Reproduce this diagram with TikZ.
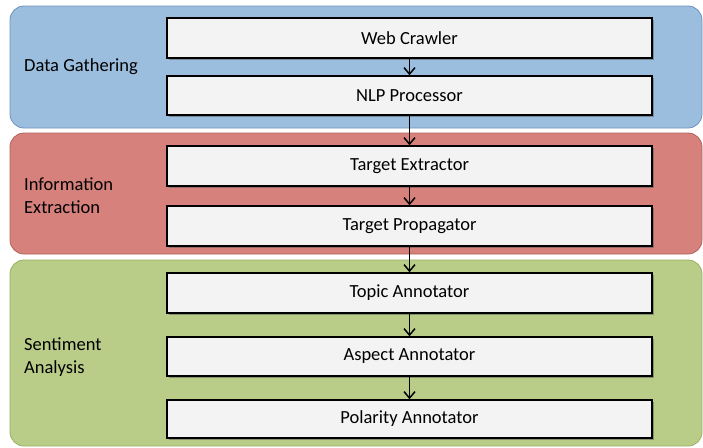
\documentclass[tikz,border=0pt]{standalone}
\usepackage{fontspec}
\setmainfont{Carlito}
\usetikzlibrary{shadows,arrows.meta}
\definecolor{bandblue}{HTML}{9CBEDE}
\definecolor{bandblueline}{HTML}{6F93BC}
\definecolor{bandred}{HTML}{D6817B}
\definecolor{bandredline}{HTML}{B5625C}
\definecolor{bandgreen}{HTML}{B9CD88}
\definecolor{bandgreenline}{HTML}{97B062}
\definecolor{boxfill}{HTML}{F3F3F3}
\tikzset{
  band/.style={draw=#1line, fill=#1, line width=0.8pt, rounded corners=14pt,
    minimum width=692pt, inner sep=0pt},
  stagebox/.style={draw=black, fill=boxfill, line width=1.5pt,
    minimum width=485pt, inner sep=0pt,
    drop shadow={shadow xshift=1.5pt, shadow yshift=-1.8pt, opacity=0.45, fill=black!70},
    font=\fontsize{18.5}{22}\selectfont},
  bandlabel/.style={anchor=west, align=left, inner sep=0pt,
    font=\fontsize{18.5}{23}\selectfont},
  flow/.style={line width=1.5pt, -{Straight Barb[length=6.5pt,width=11pt,line width=1.5pt]}}
}
\begin{document}
\begin{tikzpicture}[x=1pt,y=-1pt]
\useasboundingbox (0,0) rectangle (703,447);
% bands
\node[band=bandblue, minimum height=122pt] (bblue) at (356,67) {};
\node[band=bandred, minimum height=121pt] (bred) at (356,193.5) {};
\node[band=bandgreen, minimum height=186pt] (bgreen) at (356,353) {};
% labels
\node[bandlabel] (lg) at (24,67) {Data Gathering};
\node[bandlabel] (le) at (24,196) {Information\\Extraction};
\node[bandlabel] (ls) at (24,357) {Sentiment\\Analysis};
% boxes
\node[stagebox, minimum height=40pt] (wc) at (409.5,38) {Web Crawler};
\node[stagebox, minimum height=39pt] (nlp) at (409.5,95.5) {NLP Processor};
\node[stagebox, minimum height=40pt] (te) at (409.5,166) {Target Extractor};
\node[stagebox, minimum height=40pt] (tp) at (409.5,226) {Target Propagator};
\node[stagebox, minimum height=40pt] (ta) at (409.5,293) {Topic Annotator};
\node[stagebox, minimum height=39pt] (aa) at (409.5,356.5) {Aspect Annotator};
\node[stagebox, minimum height=38pt] (pa) at (409.5,419) {Polarity Annotator};
% connectors
\draw[flow] (wc) -- (nlp);
\draw[flow] (nlp) -- (te);
\draw[flow] (te) -- (tp);
\draw[flow] (tp) -- (ta);
\draw[flow] (ta) -- (aa);
\draw[flow] (aa) -- (pa);
\end{tikzpicture}
\end{document}
